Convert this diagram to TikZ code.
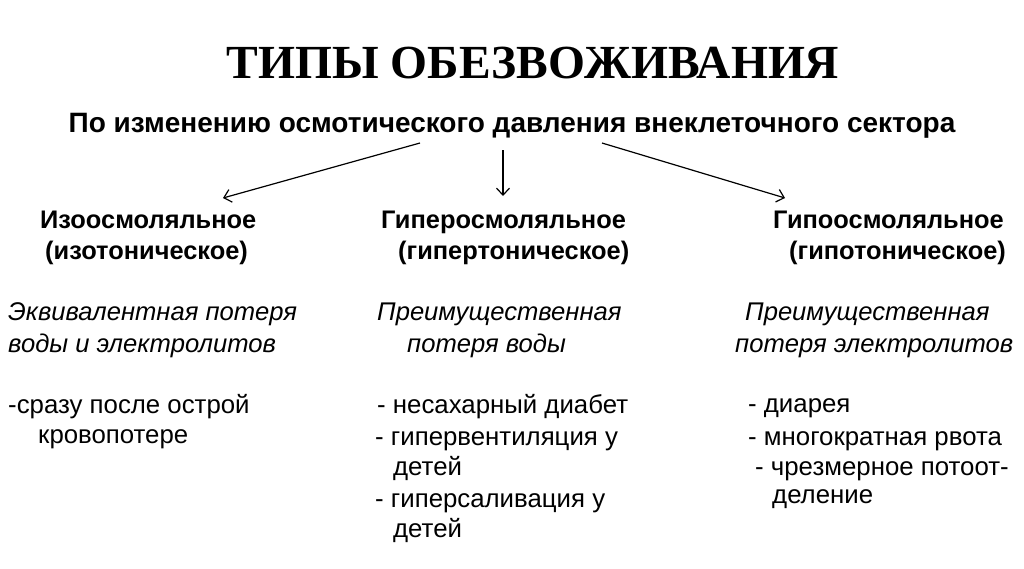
\documentclass[tikz,border=0pt]{standalone}
\usepackage{fontspec}
\setmainfont{Liberation Sans}
\newfontfamily\titlefont{Liberation Serif}
\usepackage{tikz}
\usetikzlibrary{arrows.meta, positioning}

\begin{document}
\begin{tikzpicture}[
    x=1pt, y=-1pt,
    title/.style={font=\titlefont\fontsize{47.5}{47.5}\selectfont\bfseries, inner sep=0pt, anchor=base},
    subtitle/.style={font=\fontsize{28}{28}\selectfont\bfseries, inner sep=0pt, anchor=base},
    head/.style={font=\fontsize{25.4}{25.4}\selectfont\bfseries, inner sep=0pt, anchor=base west},
    descr/.style={font=\fontsize{25.6}{25.6}\selectfont\itshape, inner sep=0pt, anchor=base west},
    item/.style={font=\fontsize{25.8}{25.8}\selectfont, inner sep=0pt, anchor=base west},
    arrow/.style={-{Straight Barb[length=7pt, width=13pt]}, line width=1.2pt}
]
\useasboundingbox (0,0) rectangle (1024,568);

\node[title] (title) at (533,78) {ТИПЫ ОБЕЗВОЖИВАНИЯ};
\node[subtitle] (sub) at (512,132) {По изменению осмотического давления внеклеточного сектора};

% column headings
\node[head] (iso1) at (40,228) {Изоосмоляльное};
\node[head] (iso2) at (45,259) {(изотоническое)};
\node[head] (hyper1) at (381,228) {Гиперосмоляльное};
\node[head] (hyper2) at (398,259) {(гипертоническое)};
\node[head] (hypo1) at (773,228) {Гипоосмоляльное};
\node[head] (hypo2) at (789,259) {(гипотоническое)};

% descriptions
\node[descr] (isod1) at (8,320) {Эквивалентная потеря};
\node[descr] (isod2) at (8,352) {воды и электролитов};
\node[descr] (hyperd1) at (377,320) {Преимущественная};
\node[descr] (hyperd2) at (407,352) {потеря воды};
\node[descr] (hypod1) at (745,320) {Преимущественная};
\node[descr] (hypod2) at (735,352) {потеря электролитов};

% causes
\node[item] (isoc1) at (8,413) {-сразу после острой};
\node[item] (isoc2) at (38,443) {кровопотере};

\node[item] (hyperc1) at (377,413) {- несахарный диабет};
\node[item] (hyperc2) at (375,445) {- гипервентиляция у};
\node[item] (hyperc3) at (393,475) {детей};
\node[item] (hyperc4) at (375,507) {- гиперсаливация у};
\node[item] (hyperc5) at (393,537) {детей};

\node[item] (hypoc1) at (748,412) {- диарея};
\node[item] (hypoc2) at (748,445) {- многократная рвота};
\node[item] (hypoc3) at (755,475) {- чрезмерное потоот-};
\node[item] (hypoc4) at (772,503) {деление};

% arrows
\coordinate (s1) at (420,143);
\coordinate (e1) at (223,198);
\coordinate (s2) at (503,150);
\coordinate (e2) at (503,196);
\coordinate (s3) at (602,143);
\coordinate (e3) at (785,198);
\draw[arrow] (s1) -- (e1);
\draw[arrow] (s2) -- (e2);
\draw[arrow] (s3) -- (e3);

\end{tikzpicture}
\end{document}
